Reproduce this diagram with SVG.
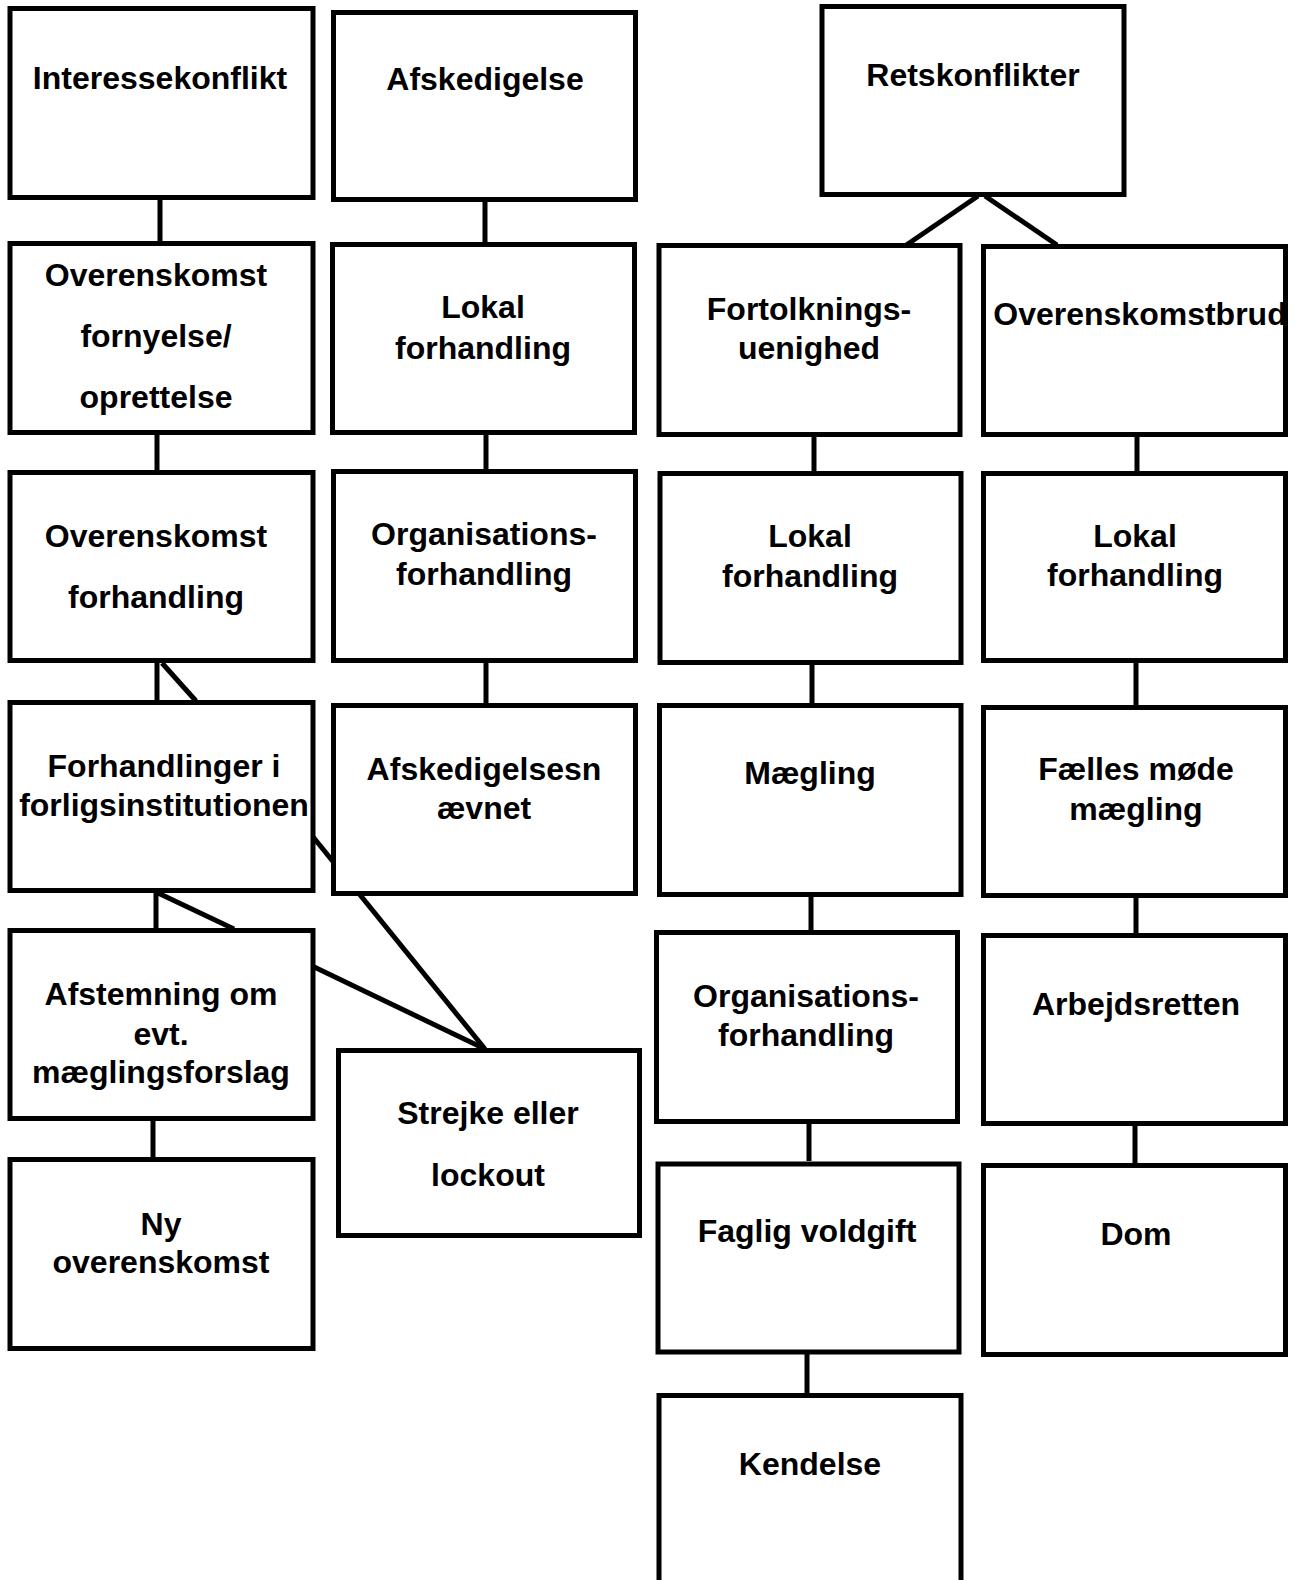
<svg xmlns="http://www.w3.org/2000/svg" width="1295" height="1580" viewBox="0 0 1295 1580">
<style>
.b{fill:#fff;stroke:#000;stroke-width:5}
.c line{stroke:#000;stroke-width:5}
text{font-family:"Liberation Sans",Arial,sans-serif;font-weight:bold;font-size:32px;fill:#000;text-anchor:middle}
</style>
<rect x="0" y="0" width="1295" height="1580" fill="#fff"/>
<g id="connectors" class="c">
<line x1="160" y1="200" x2="160" y2="241"/>
<line x1="157" y1="435" x2="157" y2="470"/>
<line x1="157" y1="663" x2="157" y2="700"/>
<line x1="162" y1="663" x2="196" y2="701"/>
<line x1="156" y1="893" x2="156" y2="928"/>
<line x1="158" y1="893" x2="234" y2="929"/>
<line x1="305" y1="827" x2="485" y2="1049"/>
<line x1="310" y1="965" x2="485" y2="1049"/>
<line x1="153" y1="1121" x2="153" y2="1157"/>
<line x1="485" y1="200" x2="485" y2="242"/>
<line x1="486" y1="435" x2="486" y2="469"/>
<line x1="486" y1="663" x2="486" y2="703"/>
<line x1="978" y1="196" x2="902" y2="248"/>
<line x1="985" y1="196" x2="1057" y2="245"/>
<line x1="814" y1="437" x2="814" y2="471"/>
<line x1="812" y1="665" x2="812" y2="703"/>
<line x1="811" y1="897" x2="811" y2="930"/>
<line x1="809" y1="1124" x2="809" y2="1161"/>
<line x1="807" y1="1354" x2="807" y2="1393"/>
<line x1="1137" y1="437" x2="1137" y2="471"/>
<line x1="1136" y1="663" x2="1136" y2="705"/>
<line x1="1136" y1="898" x2="1136" y2="933"/>
<line x1="1135" y1="1126" x2="1135" y2="1163"/>
</g>
<g id="interessekonflikt"><rect class="b" x="10" y="8.5" width="303" height="189"/><text x="160" y="89">Interessekonflikt</text></g>
<g id="overenskomst-fornyelse"><rect class="b" x="10" y="243.5" width="303" height="189"/><text x="156" y="286">Overenskomst</text><text x="156" y="347">fornyelse/</text><text x="156" y="408">oprettelse</text></g>
<g id="overenskomst-forhandling"><rect class="b" x="10" y="472.5" width="303" height="188"/><text x="156" y="547">Overenskomst</text><text x="156" y="608">forhandling</text></g>
<g id="forligsinstitutionen"><rect class="b" x="10" y="702.5" width="303" height="188"/><text x="164" y="777">Forhandlinger i</text><text x="164" y="816">forligsinstitutionen</text></g>
<g id="afstemning"><rect class="b" x="10" y="930.5" width="303" height="188"/><text x="161" y="1005">Afstemning om</text><text x="161" y="1045">evt.</text><text x="161" y="1083">mæglingsforslag</text></g>
<g id="ny-overenskomst"><rect class="b" x="10" y="1159.5" width="303" height="189"/><text x="161" y="1235">Ny</text><text x="161" y="1273">overenskomst</text></g>
<g id="afskedigelse"><rect class="b" x="333.5" y="12.5" width="302" height="187"/><text x="485" y="90">Afskedigelse</text></g>
<g id="lokal-forhandling-1"><rect class="b" x="332.5" y="244.5" width="302" height="188"/><text x="483" y="318">Lokal</text><text x="483" y="359">forhandling</text></g>
<g id="organisationsforhandling-1"><rect class="b" x="333.5" y="471.5" width="302" height="189"/><text x="484" y="545">Organisations-</text><text x="484" y="585">forhandling</text></g>
<g id="afskedigelsesnaevnet"><rect class="b" x="333.5" y="705.5" width="302" height="188"/><text x="484" y="780">Afskedigelsesn</text><text x="484" y="819">ævnet</text></g>
<g id="strejke"><rect class="b" x="338.5" y="1050.5" width="301" height="185"/><text x="488" y="1124">Strejke eller</text><text x="488" y="1186">lockout</text></g>
<g id="retskonflikter"><rect class="b" x="822" y="6.5" width="302" height="188"/><text x="973" y="86">Retskonflikter</text></g>
<g id="fortolkningsuenighed"><rect class="b" x="659" y="245.5" width="301" height="189"/><text x="809" y="320">Fortolknings-</text><text x="809" y="359">uenighed</text></g>
<g id="lokal-forhandling-2"><rect class="b" x="660" y="473.5" width="301" height="189"/><text x="810" y="547">Lokal</text><text x="810" y="587">forhandling</text></g>
<g id="maegling"><rect class="b" x="659.5" y="705.5" width="301.5" height="189"/><text x="810" y="784">Mægling</text></g>
<g id="organisationsforhandling-2"><rect class="b" x="656.5" y="932.5" width="301" height="189"/><text x="806" y="1007">Organisations-</text><text x="806" y="1046">forhandling</text></g>
<g id="faglig-voldgift"><rect class="b" x="658" y="1164" width="301" height="188"/><text x="807" y="1242">Faglig voldgift</text></g>
<g id="kendelse"><rect class="b" x="659" y="1395.5" width="302" height="200"/><text x="810" y="1475">Kendelse</text></g>
<g id="overenskomstbrud"><rect class="b" x="983.5" y="246.5" width="302" height="188"/><text x="1140" y="325">Overenskomstbrud</text></g>
<g id="lokal-forhandling-3"><rect class="b" x="983.5" y="473.5" width="302" height="187"/><text x="1135" y="547">Lokal</text><text x="1135" y="586">forhandling</text></g>
<g id="faelles-moede"><rect class="b" x="983.5" y="707.5" width="302" height="188"/><text x="1136" y="780">Fælles møde</text><text x="1136" y="820">mægling</text></g>
<g id="arbejdsretten"><rect class="b" x="983.5" y="935.5" width="302" height="188"/><text x="1136" y="1015">Arbejdsretten</text></g>
<g id="dom"><rect class="b" x="983.5" y="1165.5" width="302" height="189"/><text x="1136" y="1245">Dom</text></g>
</svg>
